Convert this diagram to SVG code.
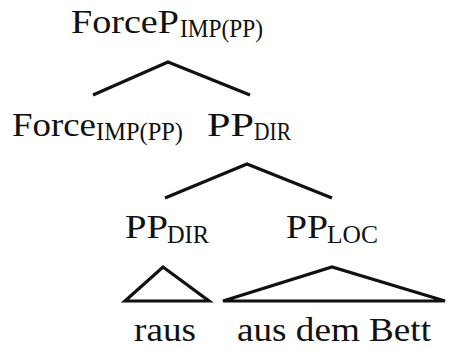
<svg xmlns="http://www.w3.org/2000/svg" width="449" height="349" viewBox="0 0 449 349" font-family="'Liberation Serif', 'Times New Roman', serif">
<style>
text{font-family:"Liberation Serif","Times New Roman",serif;fill:#111}
.m{font-size:33px}
.s{font-size:25px}
.w{font-size:34px}
.e{fill:none;stroke:#111;stroke-width:3.2;stroke-linejoin:miter}
</style>
<rect width="449" height="349" fill="#fff"/>
<g id="connectors">
<polyline class="e" points="93,95 168,62 250,95"/>
<polyline class="e" points="165,198 247,164 332,198"/>
<polygon class="e" points="125,301 163,267 209,301"/>
<polygon class="e" points="223,301 332,267 445,301"/>
</g>
<g id="forceP">
<text class="m" x="71" y="33" textLength="108" lengthAdjust="spacingAndGlyphs">ForceP</text>
<text class="s" x="180" y="37" textLength="83" lengthAdjust="spacingAndGlyphs">IMP(PP)</text>
</g>
<g id="force">
<text class="m" x="12" y="136" textLength="84" lengthAdjust="spacingAndGlyphs">Force</text>
<text class="s" x="96" y="140" textLength="87" lengthAdjust="spacingAndGlyphs">IMP(PP)</text>
</g>
<g id="ppdir1">
<text class="m" x="207" y="136" textLength="47" lengthAdjust="spacingAndGlyphs">PP</text>
<text class="s" x="254" y="140" textLength="37" lengthAdjust="spacingAndGlyphs">DIR</text>
</g>
<g id="ppdir2">
<text class="m" x="125" y="238" textLength="43" lengthAdjust="spacingAndGlyphs">PP</text>
<text class="s" x="167" y="243" textLength="42" lengthAdjust="spacingAndGlyphs">DIR</text>
</g>
<g id="pploc">
<text class="m" x="286" y="238" textLength="42" lengthAdjust="spacingAndGlyphs">PP</text>
<text class="s" x="327" y="243" textLength="51" lengthAdjust="spacingAndGlyphs">LOC</text>
</g>
<g id="raus">
<text class="w" x="134" y="341" textLength="62" lengthAdjust="spacingAndGlyphs">raus</text>
</g>
<g id="ausdembett">
<text class="w" x="237" y="341" textLength="194" lengthAdjust="spacingAndGlyphs">aus dem Bett</text>
</g>
</svg>
